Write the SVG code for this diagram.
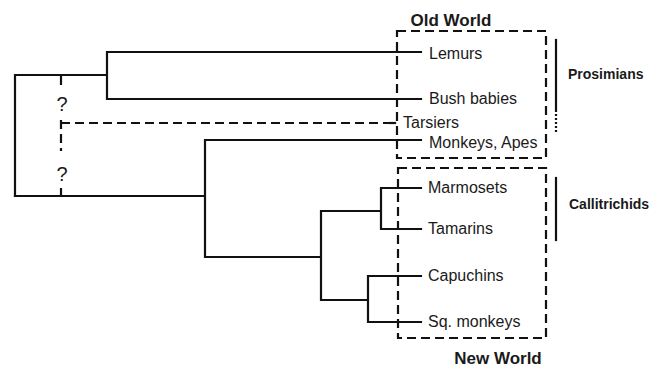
<svg xmlns="http://www.w3.org/2000/svg" width="663" height="368" viewBox="0 0 663 368">
<style>
.t{fill:none;stroke:#111;stroke-width:2.2;stroke-linecap:square}
.d{fill:none;stroke:#111;stroke-width:2.2;stroke-dasharray:9 5}
.lf{font-family:"Liberation Sans",Arial,sans-serif;font-size:16px;fill:#1a1a1a}
.b{font-family:"Liberation Sans",Arial,sans-serif;font-weight:bold;fill:#1a1a1a}
.q{font-family:"Liberation Sans",Arial,sans-serif;font-size:20px;fill:#1a1a1a;text-anchor:middle}
</style>
<rect width="663" height="368" fill="#fff"/>
<g id="connectors">
<path class="t" d="M15,75 V196 M15,75 H107 M107,52 V99 M107,52 H421 M107,99 H421"/>
<path class="t" d="M15,196 H205 M205,140 V257 M205,140 H421 M205,257 H321 M321,211 V300 M321,211 H381 M381,188 V229 M381,188 H421 M381,229 H421 M321,300 H368 M368,276 V322 M368,276 H421 M368,322 H421"/>
<path class="d" d="M61,76 V89 M61,120 V151 M61,188 V196"/>
<path class="d" d="M61,123 H395"/>
<path class="t" d="M390,123 H395"/>
</g>
<g id="q1"><text class="q" x="62" y="111">?</text></g>
<g id="q2"><text class="q" x="62" y="181">?</text></g>
<g id="old-world">
<rect class="d" x="397" y="31" width="149" height="127"/>
<text class="b" x="451" y="26" font-size="17" text-anchor="middle">Old World</text>
</g>
<g id="new-world">
<rect class="d" x="398" y="168" width="148" height="170"/>
<text class="b" x="498" y="364" font-size="17" text-anchor="middle">New World</text>
</g>
<g id="lemurs"><text class="lf" x="429" y="59">Lemurs</text></g>
<g id="bush-babies"><text class="lf" x="429" y="104">Bush babies</text></g>
<g id="tarsiers"><text class="lf" x="403" y="128">Tarsiers</text></g>
<g id="monkeys-apes"><text class="lf" x="429" y="148">Monkeys, Apes</text></g>
<g id="marmosets"><text class="lf" x="428" y="193">Marmosets</text></g>
<g id="tamarins"><text class="lf" x="428" y="234">Tamarins</text></g>
<g id="capuchins"><text class="lf" x="428" y="281">Capuchins</text></g>
<g id="sq-monkeys"><text class="lf" x="428" y="327">Sq. monkeys</text></g>
<g id="prosimians">
<path class="t" d="M556,40 V109"/>
<path fill="none" stroke="#111" stroke-width="2.2" stroke-dasharray="2 2" d="M556,110 V132"/>
<text class="b" x="568" y="79" font-size="14">Prosimians</text>
</g>
<g id="callitrichids">
<path class="t" d="M556,178 V240"/>
<text class="b" x="569" y="209" font-size="14">Callitrichids</text>
</g>
</svg>
